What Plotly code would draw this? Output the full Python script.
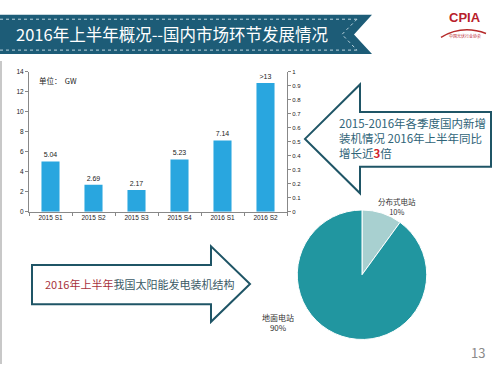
import plotly.graph_objects as go

W, H = 492, 367

categories = ["2015 S1", "2015 S2", "2015 S3", "2015 S4", "2016 S1", "2016 S2"]
install_gw = [5.04, 2.69, 2.17, 5.23, 7.14, 12.9]
bar_labels = ["5.04", "2.69", "2.17", "5.23", "7.14", ">13"]

pie_labels = ["分布式电站", "地面电站"]
pie_values = [10, 90]

FONT = "Noto Sans CJK SC, Noto Sans, sans-serif"


def px(x):
    return x / W


def py(y):
    return 1 - y / H


def path(points):
    s = "M " + " L ".join(f"{px(x):.5f},{py(y):.5f}" for x, y in points) + " Z"
    return s


fig = go.Figure()

fig.add_trace(go.Bar(
    x=categories, y=install_gw, text=bar_labels,
    textposition="outside", cliponaxis=False,
    textfont=dict(size=7, color="#222", family="Liberation Sans, Arial"),
    marker=dict(color="#29a6df", line=dict(width=0)),
    width=0.42, xaxis="x", yaxis="y", showlegend=False,
))
# secondary axis carrier (empty scale 0..1)
fig.add_trace(go.Scatter(x=[categories[0]], y=[None], xaxis="x", yaxis="y2",
                         showlegend=False, hoverinfo="skip"))

fig.add_trace(go.Pie(
    labels=pie_labels, values=pie_values, sort=False, direction="clockwise",
    rotation=0, textinfo="none", showlegend=False,
    marker=dict(colors=["#a8d0d0", "#2196a0"], line=dict(color="white", width=1)),
    domain=dict(x=[px(296), px(428)], y=[py(342), py(210)]),
))

axis_font = dict(size=6.5, color="#222", family="Liberation Sans, Arial")
fig.update_layout(
    width=W, height=H, margin=dict(l=0, r=0, t=0, b=0),
    paper_bgcolor="white", plot_bgcolor="white",
    font=dict(family=FONT),
    bargap=0.58,
    xaxis=dict(domain=[px(29), px(287)], type="category", showline=True,
               linecolor="#888", linewidth=1, ticks="outside", ticklen=3,
               tickcolor="#888", tickson="boundaries", tickfont=axis_font,
               showgrid=False, anchor="y", fixedrange=True),
    yaxis=dict(domain=[py(211.7), py(69.3)], range=[0, 14], dtick=2,
               showline=True, linecolor="#888", ticks="outside", ticklen=3,
               tickcolor="#888", showgrid=False, zeroline=False,
               tickfont=axis_font, anchor="x"),
    yaxis2=dict(overlaying="y", side="right", range=[0, 1], dtick=0.1,
                showline=True, linecolor="#888", ticks="outside", ticklen=3,
                tickcolor="#888", showgrid=False, zeroline=False,
                tickfont=dict(size=6, color="#222", family="Liberation Sans, Arial"),
                anchor="x"),
)

shapes = []
# header banner
shapes.append(dict(type="path", xref="paper", yref="paper",
                   path=path([(0, 11), (372, 11), (354, 31), (372, 51), (0, 51)]),
                   fillcolor="#1d5c77", line=dict(width=0), layer="below"))
for yy in (15.5, 47):
    shapes.append(dict(type="line", xref="paper", yref="paper",
                       x0=px(0), x1=px(357), y0=py(yy), y1=py(yy),
                       line=dict(color="#bcd3dd", width=1, dash="dot")))
shapes.append(dict(type="path", xref="paper", yref="paper",
                   path="M " + " L ".join(f"{px(x):.5f},{py(y):.5f}" for x, y in [(357, 15.5), (342, 31), (357, 47)]),
                   line=dict(color="#bcd3dd", width=1, dash="dot")))
# left slide border
shapes.append(dict(type="line", xref="paper", yref="paper",
                   x0=px(1), x1=px(1), y0=py(58), y1=py(367),
                   line=dict(color="#c8c8c8", width=2)))
# left-pointing arrow
shapes.append(dict(type="path", xref="paper", yref="paper",
                   path=path([(305, 137.5), (360, 82), (360, 110), (491, 110),
                              (491, 166), (360, 166), (360, 193)]),
                   fillcolor="white", line=dict(color="#1f5566", width=2)))
# right-pointing arrow
shapes.append(dict(type="path", xref="paper", yref="paper",
                   path=path([(32, 266), (211, 266), (211, 247), (250, 285.5),
                              (211, 324), (211, 306), (32, 306)]),
                   fillcolor="white", line=dict(color="#1f5566", width=2)))
# logo arc
shapes.append(dict(type="path", xref="paper", yref="paper",
                   path=f"M {px(441):.5f},{py(34):.5f} Q {px(462):.5f},{py(21):.5f} {px(486):.5f},{py(30):.5f}",
                   line=dict(color="#b52a2a", width=1.5)))
fig.update_layout(shapes=shapes)

ann = []


def text(x, y, s, size, color, xanchor="left", yanchor="middle", family=FONT, align="left"):
    ann.append(dict(xref="paper", yref="paper", x=px(x), y=py(y), text=s,
                    showarrow=False, xanchor=xanchor, yanchor=yanchor, align=align,
                    font=dict(size=size, color=color, family=family)))


text(14, 31, "2016年上半年概况--国内市场环节发展情况", 16.5, "white")
text(37, 78, "单位：  GW", 7.5, "#222")
text(337, 137,
     "2015-2016年各季度国内新增<br>装机情况 2016年上半年同比<br>增长近<b><span style='color:#d0202a'>3</span></b>倍",
     11.5, "#2f6478")
text(43, 285.5, "<span style='color:#a8323c'>2016年上半年</span>我国太阳能发电装机结构",
     11, "#3b5a66")
text(397, 206, f"{pie_labels[0]}<br>{pie_values[0]}%", 7.5, "#333", xanchor="center", align="center")
text(278, 325, f"{pie_labels[1]}<br>{pie_values[1]}%", 8, "#333", xanchor="center", align="center")
text(478, 355, "13", 13, "#8a8a8a", xanchor="center")
text(465, 14, "<b>CPIA</b>", 13, "#b8202a", xanchor="center",
     family="Liberation Sans Narrow, Liberation Sans, Arial")
text(465, 33, "中国光伏行业协会", 4, "#b8202a", xanchor="center")
fig.update_layout(annotations=ann)

fig.write_html("out.html", config={"displayModeBar": False},
               post_script="document.body.style.margin='0';")
